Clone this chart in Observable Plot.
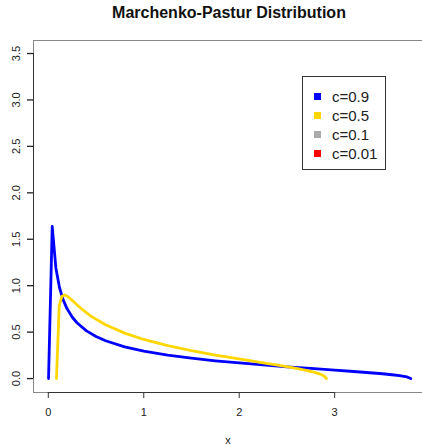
<!DOCTYPE html>
<html><head><meta charset="utf-8">
<script src="https://cdn.jsdelivr.net/npm/d3@7"></script>
<script src="https://cdn.jsdelivr.net/npm/@observablehq/plot@0.6"></script>
<style>
body{margin:0;background:#fff;font-family:"Liberation Sans",Arial,sans-serif}
#wrap{position:relative;width:422px;height:444px;overflow:hidden}
#title{position:absolute;left:33px;width:392px;top:4px;text-align:center;font-weight:bold;font-size:16px;color:#111}
#legend{position:absolute;left:302px;top:76px;width:84px;height:94px;border:1px solid #333;box-sizing:border-box;background:#fff;padding-top:10px}
.row{display:flex;align-items:center;height:18.9px;font-size:15px;color:#222}
.sw{width:7px;height:7px;margin-left:11px;margin-right:11px}
</style></head>
<body>
<div id="wrap"><div id="title">Marchenko-Pastur Distribution</div></div>
<script>
const blueX = [0.0026,0.0410,0.0793,0.1176,0.1560,0.1943,0.25,0.3,0.4,0.5,0.6,0.8,1.0,1.25,1.5,1.75,2.0,2.25,2.5,2.75,3.0,3.2,3.4,3.5,3.6,3.68,3.74,3.759,3.797];
const blueY = [0,1.638,1.191,0.978,0.847,0.756,0.663,0.601,0.514,0.453,0.407,0.342,0.295,0.252,0.219,0.191,0.168,0.147,0.127,0.109,0.091,0.076,0.060,0.052,0.041,0.032,0.022,0.018,0];
const goldX = [0.0858,0.1144,0.1429,0.1715,0.2001,0.2286,0.2858,0.35,0.45,0.6,0.8,1.0,1.25,1.5,1.75,2.0,2.25,2.45,2.6,2.7,2.78,2.84,2.8856,2.9142];
const goldY = [0,0.787,0.886,0.900,0.886,0.862,0.808,0.749,0.670,0.579,0.489,0.421,0.355,0.300,0.253,0.211,0.170,0.136,0.109,0.088,0.069,0.051,0.031,0];
const legendLabels = ["c=0.9","c=0.5","c=0.1","c=0.01"];
const legendColors = ["#0000FF","#FFD700","#AAAAAA","#FF0000"];
const xTicks = [0,1,2,3];
const yTicks = [0,0.5,1,1.5,2,2.5,3,3.5];

const blue = blueX.map((x,i)=>({x, y: blueY[i]}));
const gold = goldX.map((x,i)=>({x, y: goldY[i]}));
const xDom = [-0.155, 3.92], yDom = [-0.15, 3.64];

const chart = Plot.plot({
  width: 422, height: 444,
  marginLeft: 33, marginRight: 0, marginTop: 40, marginBottom: 52,
  style: {fontFamily: "'Liberation Sans', Arial, sans-serif", fontSize: "11px", color: "#222", background: "#fff"},
  x: {domain: xDom},
  y: {domain: yDom},
  marks: [
    Plot.frame({stroke: "#888"}),
    Plot.ruleY([yDom[0]], {x1: xTicks[0], x2: xTicks[xTicks.length-1], stroke: "#333"}),
    Plot.ruleX([xDom[0]], {y1: yTicks[0], y2: yTicks[yTicks.length-1], stroke: "#333"}),
    Plot.axisX({ticks: xTicks, tickFormat: d => String(d), tickSize: 6, tickPadding: 10, stroke: "#333",
      label: "x", labelAnchor: "center", labelArrow: "none", labelOffset: 51}),
    Plot.axisY({ticks: yTicks, tickSize: 6, text: null, label: null, stroke: "#222", strokeWidth: 1.3}),
    Plot.axisY({ticks: yTicks, tickFormat: d => d.toFixed(1), tickSize: 0, tickPadding: 14,
      rotate: -90, textAnchor: "middle", lineAnchor: "bottom", label: null}),
    Plot.line(blue, {x: "x", y: "y", stroke: "#0000FF", strokeWidth: 2.8}),
    Plot.line(gold, {x: "x", y: "y", stroke: "#FFD700", strokeWidth: 2.8})
  ]
});
const wrap = document.getElementById("wrap");
wrap.insertBefore(chart, wrap.firstChild);
chart.style.position = "absolute"; chart.style.left = "0"; chart.style.top = "0";
const leg = document.createElement("div");
leg.id = "legend";
legendLabels.forEach((l,i)=>{
  const r = document.createElement("div"); r.className = "row";
  const s = document.createElement("div"); s.className = "sw"; s.style.background = legendColors[i];
  const t = document.createElement("span"); t.textContent = l;
  r.appendChild(s); r.appendChild(t); leg.appendChild(r);
});
wrap.appendChild(leg);
</script>
</body></html>
